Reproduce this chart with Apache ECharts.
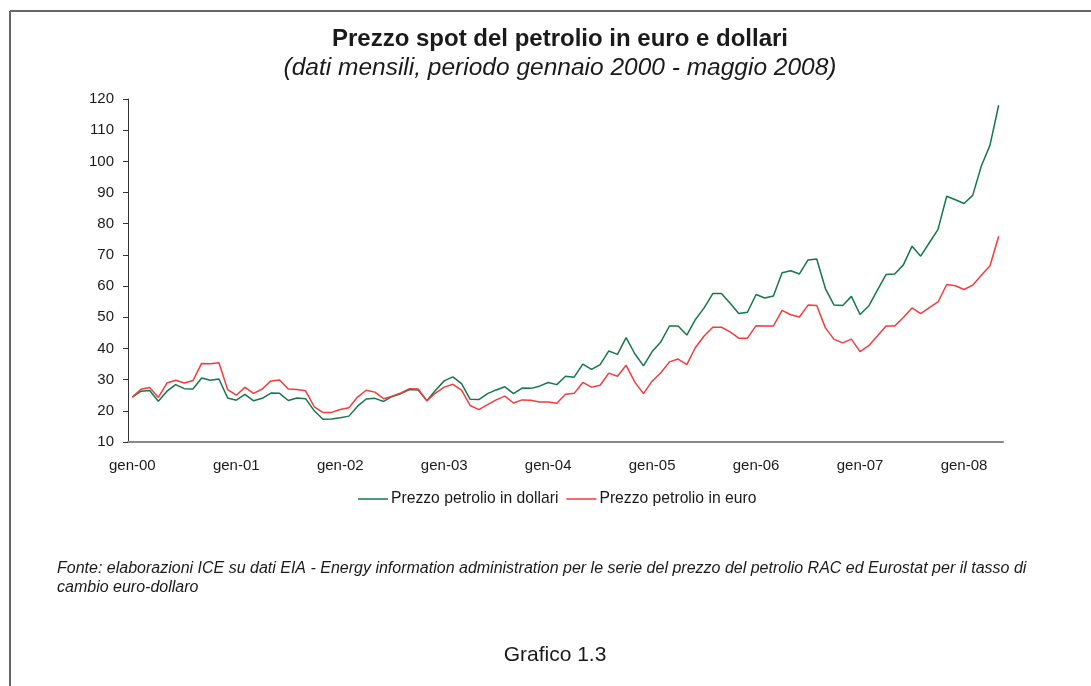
<!DOCTYPE html>
<html>
	<head>
		<meta charset="utf-8">
		<script src="https://cdn.jsdelivr.net/npm/echarts@6/dist/echarts.min.js"></script>
		<style>
			html, body { margin:0; padding:0; background:#fff; }
			#main { width:1091px; height:686px; }
		</style>
	</head>
	<body>
		<div id="main"></div>
		<script>
			// mesi e anni per le etichette dell'asse
			var mesi = ['gen','feb','mar','apr','mag','giu','lug','ago','set','ott','nov','dic'];
			var anni = ['00','01','02','03','04','05','06','07','08'];
			var nMesi = 101; // gennaio 2000 - maggio 2008

			// prezzo petrolio in dollari (mensile)
			var dollari = [
				24.4, 26.3, 26.5, 23.1, 26.3, 28.4, 27.1, 27.0, 30.5, 29.8, 30.2, 24.1,
				23.4, 25.3, 23.2, 24.0, 25.7, 25.6, 23.3, 24.1, 23.9, 20.0, 17.3, 17.4,
				17.8, 18.3, 21.5, 23.8, 24.0, 23.0, 24.6, 25.5, 26.8, 26.7, 23.2, 26.6,
				29.6, 30.9, 28.7, 23.7, 23.6, 25.5, 26.7, 27.7, 25.5, 27.3, 27.2, 27.9,
				29.1, 28.4, 31.1, 30.8, 35.0, 33.3, 34.8, 39.2, 38.1, 43.5, 38.3, 34.4,
				39.0, 42.1, 47.2, 47.2, 44.3, 49.3, 53.0, 57.6, 57.6, 54.5, 51.2, 51.6,
				57.3, 56.2, 56.8, 64.3, 64.9, 63.9, 68.4, 68.7, 59.2, 53.9, 53.8, 56.7,
				50.9, 53.6, 58.7, 63.7, 63.9, 66.8, 72.8, 69.6, 73.9, 78.2, 88.8, 87.7,
				86.5, 89.1, 98.5, 105.2, 118.0
			];

			// prezzo petrolio in euro (mensile)
			var euro = [
				24.4, 26.9, 27.5, 24.3, 28.9, 29.8, 28.9, 29.7, 35.2, 35.1, 35.4, 26.8,
				25.0, 27.5, 25.6, 27.0, 29.6, 29.9, 27.0, 26.8, 26.4, 21.3, 19.5, 19.5,
				20.4, 21.0, 24.4, 26.6, 26.0, 23.9, 24.7, 25.7, 27.1, 27.0, 23.2, 25.7,
				27.6, 28.5, 26.6, 21.7, 20.4, 22.0, 23.5, 24.7, 22.5, 23.5, 23.4, 22.8,
				22.8, 22.4, 25.3, 25.6, 29.1, 27.6, 28.2, 32.1, 31.1, 34.6, 29.2, 25.5,
				29.5, 32.2, 35.7, 36.6, 34.8, 40.3, 44.0, 46.8, 46.8, 45.3, 43.3, 43.3,
				47.3, 47.2, 47.2, 52.2, 50.8, 50.1, 53.9, 53.8, 46.6, 42.9, 41.8, 43.0,
				39.0, 40.9, 44.0, 47.2, 47.2, 49.9, 53.0, 51.2, 53.1, 54.9, 60.5, 60.1,
				58.9, 60.3, 63.5, 66.5, 76.0
			];

			var categorie = [];
			for (var i = 0; i < nMesi; i++) {
				categorie.push(mesi[i % 12] + '-' + anni[Math.floor(i / 12)]);
			}

			var font = '"Liberation Sans", Arial, sans-serif';

			option = {
				backgroundColor: '#fff',
				animation: false,
				title: {
					text: 'Prezzo spot del petrolio in euro e dollari',
					subtext: '(dati mensili, periodo gennaio 2000 - maggio 2008)',
					left: 555,
					textAlign: 'center',
					top: 22,
					itemGap: 5,
					textStyle: { fontFamily: font, fontSize: 24, fontWeight: 'bold', color: '#1a1a1a' },
					subtextStyle: { fontFamily: font, fontSize: 24.5, fontStyle: 'italic', color: '#1a1a1a' }
				},
				legend: {
					data: ['Prezzo petrolio in dollari', 'Prezzo petrolio in euro'],
					left: 353,
					top: 486,
					icon: 'rect',
					itemWidth: 30,
					itemHeight: 1.5,
					itemGap: 8,
					textStyle: { fontFamily: font, fontSize: 15.7, color: '#1a1a1a', padding: [0, 0, 0, -2] }
				},
				grid: {
					left: 128,
					right: 88,
					top: 99,
					bottom: 244
				},
				xAxis: {
					type: 'category',
					data: categorie,
					boundaryGap: true,
					axisLine: { lineStyle: { color: '#888', width: 2 } },
					axisTick: { interval: 11, length: 5, lineStyle: { color: '#333' } },
					axisLabel: { interval: 11, margin: 16, fontFamily: font, fontSize: 15, color: '#1a1a1a' },
					splitLine: { show: false }
				},
				yAxis: {
					type: 'value',
					min: 10,
					max: 120,
					interval: 10,
					axisLine: { show: true, lineStyle: { color: '#333', width: 1 } },
					axisTick: { show: true, length: 5, lineStyle: { color: '#333' } },
					axisLabel: { margin: 14, fontFamily: font, fontSize: 15, color: '#1a1a1a' },
					splitLine: { show: false }
				},
				series: [
					{
						name: 'Prezzo petrolio in dollari',
						type: 'line',
						data: dollari,
						symbol: 'none',
						color: '#15774a',
						lineStyle: { width: 1.5, color: '#15774a' }
					},
					{
						name: 'Prezzo petrolio in euro',
						type: 'line',
						data: euro,
						symbol: 'none',
						color: '#f23b3b',
						lineStyle: { width: 1.5, color: '#f23b3b' }
					}
				],
				graphic: [
					{ type: 'line', shape: { x1: 10, y1: 11, x2: 1091, y2: 11 }, style: { stroke: '#666', lineWidth: 2 } },
					{ type: 'line', shape: { x1: 10, y1: 11, x2: 10, y2: 686 }, style: { stroke: '#666', lineWidth: 2 } },
					{
						type: 'text', left: 57, top: 559,
						style: {
							text: 'Fonte: elaborazioni ICE su dati EIA - Energy information administration per le serie del prezzo del petrolio RAC ed Eurostat per il tasso di\ncambio euro-dollaro',
							font: 'italic 16px ' + font,
							lineHeight: 19,
							fill: '#1a1a1a'
						}
					},
					{
						type: 'text', x: 555, y: 655,
						style: { text: 'Grafico 1.3', font: '21px ' + font, fill: '#1a1a1a', align: 'center', verticalAlign: 'middle' }
					}
				]
			};

			var myChart = echarts.init(document.getElementById('main'));
			myChart.setOption(option, true);
		</script>
	</body>
</html>
